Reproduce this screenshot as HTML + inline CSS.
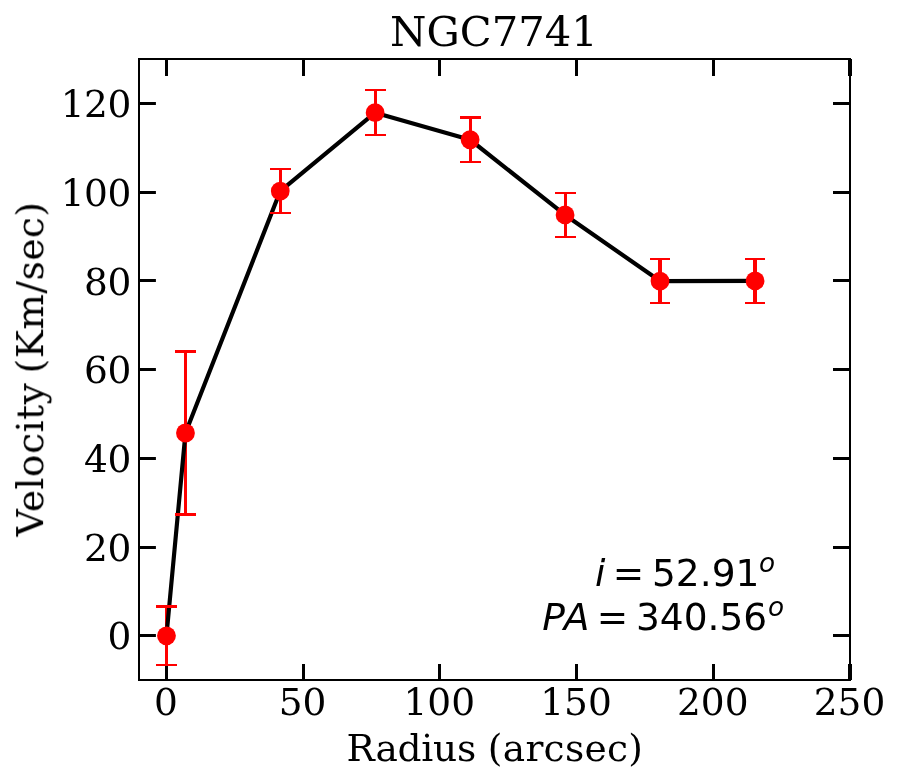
<!DOCTYPE html>
<html lang="en"><head><meta charset="utf-8"><title>NGC7741</title>
<style>html,body{margin:0;padding:0;background:#fff}svg{display:block}.s{font-family:"DejaVu Serif","Liberation Serif",serif;fill:#000}.m{font-family:"DejaVu Sans","Liberation Sans",sans-serif;fill:#000}.i{font-style:italic}</style></head>
<body>
<svg width="901" height="784" viewBox="0 0 901 784">
<rect width="901" height="784" fill="#fff"/>
<g stroke="#000" stroke-width="3" fill="none">
<path d="M166.50 680.00V664.00M166.50 59.00V76.00"/>
<path d="M303.50 680.00V664.00M303.50 59.00V76.00"/>
<path d="M439.50 680.00V664.00M439.50 59.00V76.00"/>
<path d="M576.50 680.00V664.00M576.50 59.00V76.00"/>
<path d="M713.50 680.00V664.00M713.50 59.00V76.00"/>
<path stroke-width="4" d="M850.00 680.00V664.00M850.00 59.00V76.00"/>
<path d="M139.00 635.50H155.90M850.00 635.50H833.00"/>
<path d="M139.00 547.50H155.90M850.00 547.50H833.00"/>
<path d="M139.00 458.50H155.90M850.00 458.50H833.00"/>
<path d="M139.00 369.50H155.90M850.00 369.50H833.00"/>
<path d="M139.00 280.50H155.90M850.00 280.50H833.00"/>
<path d="M139.00 192.50H155.90M850.00 192.50H833.00"/>
<path d="M139.00 103.50H155.90M850.00 103.50H833.00"/>
</g>
<g fill="#f00">
<rect x="165" y="605" width="3" height="61"/>
<rect x="184" y="350" width="3" height="166"/>
<rect x="279" y="168" width="3" height="46"/>
<rect x="374" y="89" width="3" height="47"/>
<rect x="469" y="116" width="3" height="47"/>
<rect x="564" y="192" width="3" height="46"/>
<rect x="658" y="258" width="4" height="46"/>
<rect x="753" y="258" width="4" height="46"/>
</g>
<polyline fill="none" stroke="#000" stroke-width="4.167" stroke-linejoin="round" stroke-linecap="square" points="166.46,635.84 185.46,432.98 280.25,191.05 375.12,112.65 470.12,139.75 565.08,214.95 660.00,281.05 755.08,280.95"/>
<g fill="#f00">
<path d="M156 605H177V608H156ZM156 664H177V666H156Z"/>
<path d="M175 350H196V353H175ZM175 513H196V516H175Z"/>
<path d="M270 168H291V170H270ZM270 212H291V214H270Z"/>
<path d="M365 89H386V91H365ZM365 134H386V136H365Z"/>
<path d="M460 116H481V119H460ZM460 161H481V163H460Z"/>
<path d="M555 192H576V194H555ZM555 236H576V238H555Z"/>
<path d="M650 258H670V260H650ZM650 302H670V304H650Z"/>
<path d="M745 258H765V260H745ZM745 302H765V304H745Z"/>
</g>
<g fill="#f00">
<circle cx="166.46" cy="635.84" r="9.40"/>
<circle cx="185.46" cy="432.98" r="9.40"/>
<circle cx="280.25" cy="191.05" r="9.40"/>
<circle cx="375.12" cy="112.65" r="9.40"/>
<circle cx="470.12" cy="139.75" r="9.40"/>
<circle cx="565.08" cy="214.95" r="9.40"/>
<circle cx="660.00" cy="281.05" r="9.40"/>
<circle cx="755.08" cy="280.95" r="9.40"/>
</g>
<rect x="139.00" y="59.00" width="711.00" height="621.00" fill="none" stroke="#000" stroke-width="2.000"/>
<g style="will-change:opacity">
<g class="s" font-size="37.50">
<text x="165.85" y="715.1" text-anchor="middle">0</text>
<text x="302.58" y="715.1" text-anchor="middle">50</text>
<text x="439.31" y="715.1" text-anchor="middle">100</text>
<text x="576.04" y="715.1" text-anchor="middle">150</text>
<text x="712.77" y="715.1" text-anchor="middle">200</text>
<text x="849.50" y="715.1" text-anchor="middle">250</text>
<text x="130.9" y="649.44" text-anchor="end" letter-spacing="-0.45">0</text>
<text x="130.9" y="560.73" text-anchor="end" letter-spacing="-0.45">20</text>
<text x="130.9" y="472.01" text-anchor="end" letter-spacing="-0.45">40</text>
<text x="130.9" y="383.30" text-anchor="end" letter-spacing="-0.45">60</text>
<text x="130.9" y="294.59" text-anchor="end" letter-spacing="-0.45">80</text>
<text x="130.9" y="205.87" text-anchor="end" letter-spacing="-0.45">100</text>
<text x="130.9" y="117.16" text-anchor="end" letter-spacing="-0.45">120</text>
<text x="346.6" y="760.5"><tspan letter-spacing="-0.24">Radius</tspan> <tspan x="487.8" letter-spacing="0.3">(arcsec)</tspan></text>
<text transform="translate(43.1 536.4) rotate(-90)" letter-spacing="0.5" word-spacing="-3.0">Velocity (Km/sec)</text>
</g>
<text class="s" font-size="41.67" x="493.9" y="46.0" text-anchor="middle">NGC7741</text>
<g class="m" font-size="37.50">
<text y="585.5"><tspan class="i" x="595.0">i</tspan><tspan x="612.8">=</tspan><tspan x="652.0">52.91</tspan><tspan class="i" x="759.1" dy="-13.1" font-size="26.25">o</tspan></text>
<text y="630.1"><tspan class="i" x="542.2" letter-spacing="0.7">PA</tspan><tspan x="596.7">=</tspan><tspan x="636.0">340.56</tspan><tspan class="i" x="768.1" dy="-13.7" font-size="26.25">o</tspan></text>
</g>
</g>
</svg>
</body></html>
